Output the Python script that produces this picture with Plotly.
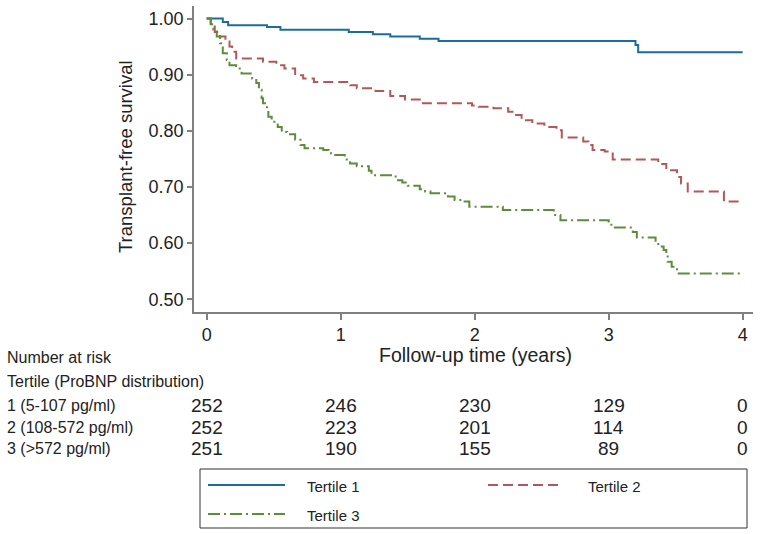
import plotly.graph_objects as go

# ---- data ----
t1 = [0, 0.12, 0.16, 0.45, 0.55, 1.06, 1.24, 1.37, 1.59, 1.73, 3.20, 3.22, 4.0]
s1 = [1.0, 0.994, 0.988, 0.985, 0.980, 0.976, 0.972, 0.968, 0.964, 0.960, 0.953, 0.940, 0.940]

t2 = [0, 0.03, 0.06, 0.10, 0.14, 0.17, 0.19, 0.22, 0.42, 0.52, 0.58, 0.66, 0.72, 0.80,
      1.07, 1.12, 1.26, 1.37, 1.48, 1.59, 1.98, 2.03, 2.14, 2.25, 2.29, 2.35, 2.43, 2.52,
      2.61, 2.65, 2.81, 2.85, 2.88, 2.97, 3.03, 3.37, 3.43, 3.51, 3.54, 3.59, 3.86, 3.97]
s2 = [1.0, 0.988, 0.976, 0.968, 0.959, 0.950, 0.941, 0.929, 0.923, 0.917, 0.911, 0.899, 0.893, 0.887,
      0.881, 0.876, 0.871, 0.862, 0.856, 0.849, 0.845, 0.843, 0.840, 0.834, 0.828, 0.819, 0.813, 0.807,
      0.801, 0.788, 0.781, 0.775, 0.766, 0.763, 0.749, 0.741, 0.730, 0.718, 0.706, 0.692, 0.674, 0.674]

t3 = [0, 0.03, 0.05, 0.075, 0.10, 0.12, 0.15, 0.17, 0.22, 0.26, 0.34, 0.37, 0.39, 0.41, 0.42,
      0.45, 0.46, 0.485, 0.53, 0.56, 0.60, 0.66, 0.70, 0.73, 0.87, 0.91, 0.945, 1.03, 1.07, 1.12,
      1.21, 1.23, 1.41, 1.46, 1.50, 1.59, 1.63, 1.67, 1.80, 1.85, 1.91, 1.96, 2.21, 2.59, 2.64,
      3.00, 3.02, 3.18, 3.21, 3.35, 3.37, 3.41, 3.43, 3.44, 3.47, 3.51, 4.0]
s3 = [1.0, 0.99, 0.98, 0.968, 0.956, 0.938, 0.926, 0.917, 0.911, 0.902, 0.893, 0.885, 0.873, 0.858, 0.849,
      0.837, 0.825, 0.816, 0.807, 0.798, 0.794, 0.784, 0.775, 0.769, 0.766, 0.760, 0.757, 0.749, 0.742, 0.737,
      0.729, 0.721, 0.712, 0.708, 0.702, 0.696, 0.692, 0.689, 0.683, 0.677, 0.674, 0.665, 0.659, 0.650, 0.641,
      0.635, 0.628, 0.620, 0.610, 0.602, 0.594, 0.588, 0.579, 0.567, 0.558, 0.546, 0.546]

series_names = ["Tertile 1", "Tertile 2", "Tertile 3"]
x_ticks = [0, 1, 2, 3, 4]
y_ticks = [0.50, 0.60, 0.70, 0.80, 0.90, 1.00]
risk_labels = ["1 (5-107 pg/ml)", "2 (108-572 pg/ml)", "3 (>572 pg/ml)"]
risk_counts = [
    [252, 246, 230, 129, 0],
    [252, 223, 201, 114, 0],
    [251, 190, 155, 89, 0],
]

# ---- styles ----
FONT = "Liberation Sans, Arial, sans-serif"
colors = ["#1b6d9b", "#b3575a", "#5f8b3c"]
dashes = ["solid", "10px,5px", "12px,4px,2px,4px"]
AX = "#808080"
TXT = "#222"

W, H = 762, 534
ML, MR, MT, MB = 194, 9, 6, 222
PW = W - ML - MR
PH = H - MT - MB


def px_x(px):
    return (px - ML) / PW


def px_y(py):
    return (H - MB - py) / PH


fig = go.Figure()
for t, s, name, c, d in zip([t1, t2, t3], [s1, s2, s3], series_names, colors, dashes):
    fig.add_trace(go.Scatter(
        x=t, y=s, mode="lines", name=name, line_shape="hv",
        line=dict(color=c, width=2, dash=d), showlegend=False,
        hoverinfo="skip",
    ))

annotations = []
# y title
annotations.append(dict(text="Transplant-free survival", xref="paper", yref="paper",
                        x=px_x(125), y=px_y(157), textangle=-90, showarrow=False,
                        font=dict(size=18.5, color=TXT), xanchor="center", yanchor="middle"))
# x title
annotations.append(dict(text="Follow-up time (years)", xref="paper", yref="paper",
                        x=px_x(475), y=px_y(355), showarrow=False,
                        font=dict(size=19.5, color=TXT), xanchor="center", yanchor="middle"))
# risk table headers
annotations.append(dict(text="Number at risk", xref="paper", yref="paper",
                        x=px_x(5), y=px_y(357), showarrow=False, xanchor="left", yanchor="middle",
                        font=dict(size=16, color=TXT)))
annotations.append(dict(text="Tertile (ProBNP distribution)", xref="paper", yref="paper",
                        x=px_x(5), y=px_y(381), showarrow=False, xanchor="left", yanchor="middle",
                        font=dict(size=16, color=TXT)))
row_y = [405, 427, 448]
for lab, counts, ry in zip(risk_labels, risk_counts, row_y):
    annotations.append(dict(text=lab, xref="paper", yref="paper", x=px_x(5), y=px_y(ry),
                            showarrow=False, xanchor="left", yanchor="middle",
                            font=dict(size=16, color=TXT)))
    for xv, n in zip(x_ticks, counts):
        annotations.append(dict(text=str(n), xref="x", yref="paper", x=xv, y=px_y(ry),
                                showarrow=False, xanchor="center", yanchor="middle",
                                font=dict(size=19, color=TXT)))

# legend box drawn manually
shapes = [dict(type="rect", xref="paper", yref="paper", x0=px_x(200), x1=px_x(747),
               y0=px_y(528), y1=px_y(469), line=dict(color="#333", width=1), fillcolor="white")]
leg_pos = [(208, 285, 305, 485), (488, 563, 586, 485), (208, 285, 305, 514)]
for (x0, x1, tx, ly), name, c, d in zip(leg_pos, series_names, colors, dashes):
    shapes.append(dict(type="line", xref="paper", yref="paper", x0=px_x(x0), x1=px_x(x1),
                       y0=px_y(ly), y1=px_y(ly), line=dict(color=c, width=2, dash=d)))
    annotations.append(dict(text=name, xref="paper", yref="paper", x=px_x(tx), y=px_y(ly + 1),
                            showarrow=False, xanchor="left", yanchor="middle",
                            font=dict(size=15, color=TXT)))

fig.update_layout(
    width=W, height=H,
    margin=dict(l=ML, r=MR, t=MT, b=MB),
    paper_bgcolor="white", plot_bgcolor="white",
    font=dict(family=FONT, color=TXT),
    xaxis=dict(range=[-0.0948, 4.077], tickvals=x_ticks, ticktext=[str(v) for v in x_ticks],
               showgrid=False, zeroline=False, showline=True, linecolor=AX, linewidth=1.5,
               ticks="outside", ticklen=6, tickcolor=AX, tickwidth=1.5,
               tickfont=dict(size=18, color=TXT)),
    yaxis=dict(range=[0.4774, 1.0223], tickvals=y_ticks, ticktext=[f"{v:.2f}" for v in y_ticks],
               showgrid=False, zeroline=False, showline=True, linecolor=AX, linewidth=1.5,
               ticks="outside", ticklen=5, tickcolor=AX, tickwidth=1.5,
               tickfont=dict(size=18, color=TXT)),
    annotations=annotations,
    shapes=shapes,
    showlegend=False,
)

fig.write_html("out.html", config={"displayModeBar": False},
               post_script="document.body.style.margin='0';document.body.style.overflow='hidden';")
